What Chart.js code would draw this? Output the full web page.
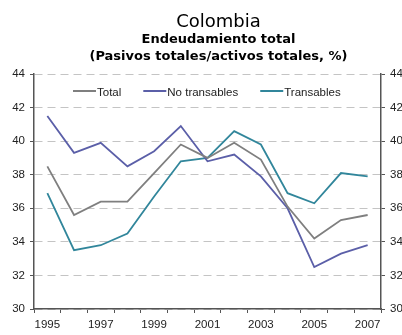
<!DOCTYPE html>
<html>
<head>
<meta charset="utf-8">
<script src="https://cdn.jsdelivr.net/npm/chart.js@4/dist/chart.umd.min.js"></script>
<style>
  html, body { margin: 0; padding: 0; background: #fff; }
</style>
</head>
<body>
<canvas id="endeudamientoChart" width="402" height="335"></canvas>
<script>
// Endeudamiento total, Colombia 1995-2007 (%)
const years = ['1995', '1996', '1997', '1998', '1999', '2000', '2001', '2002', '2003', '2004', '2005', '2006', '2007'];
const total = [38.5, 35.6, 36.4, 36.4, 38.1, 39.8, 39.0, 39.9, 38.9, 36.1, 34.2, 35.3, 35.6];
const noTransables = [41.5, 39.3, 39.9, 38.5, 39.4, 40.9, 38.8, 39.2, 37.9, 36.0, 32.5, 33.3, 33.8];
const transables = [36.9, 33.5, 33.8, 34.5, 36.7, 38.8, 39.0, 40.6, 39.8, 36.9, 36.3, 38.1, 37.9];
const yTicks = [30, 32, 34, 36, 38, 40, 42, 44];

const axisColor = '#555555';
const tickFont = { family: '"Liberation Sans", Arial, sans-serif', size: 11.5 };

// titles and the in-plot legend
const headerPlugin = {
    id: 'header',
    afterDraw(chart) {
        const ctx = chart.ctx;
        const area = chart.chartArea;
        const cx = (area.left + area.right) / 2 + 11;
        ctx.save();
        ctx.fillStyle = '#000';
        ctx.textAlign = 'center';
        ctx.textBaseline = 'alphabetic';
        ctx.font = '18px "DejaVu Sans"';
        ctx.fillText('Colombia', cx, 27);
        ctx.font = 'bold 13px "DejaVu Sans"';
        ctx.fillText('Endeudamiento total', cx, 43);
        ctx.fillText('(Pasivos totales/activos totales, %)', cx, 60);

        // legend row
        ctx.font = '11.5px "Liberation Sans", Arial, sans-serif';
        ctx.textAlign = 'left';
        ctx.fillStyle = '#222';
        let x = area.left + 39;
        const y = area.top + 17;
        chart.data.datasets.forEach(ds => {
            ctx.strokeStyle = ds.borderColor;
            ctx.lineWidth = 2;
            ctx.beginPath();
            ctx.moveTo(x, y);
            ctx.lineTo(x + 23, y);
            ctx.stroke();
            ctx.fillText(ds.label, x + 24, y + 4.5);
            x += 24 + ctx.measureText(ds.label).width + 22;
        });
        ctx.restore();
    }
};

const ctxDebt = document.getElementById('endeudamientoChart').getContext('2d');
const debtChart = new Chart(ctxDebt, {
    type: 'line',
    data: {
        labels: years,
        datasets: [{
            label: 'Total',
            data: total,
            borderColor: '#7f7f7f',
        }, {
            label: 'No transables',
            data: noTransables,
            borderColor: '#5b5fa8',
        }, {
            label: 'Transables',
            data: transables,
            borderColor: '#31869b',
        }]
    },
    options: {
        responsive: false,
        animation: false,
        layout: { padding: { top: 74, left: 0, right: 0, bottom: 0 } },
        elements: {
            point: { radius: 0 },
            line: { borderWidth: 1.8, tension: 0, fill: false }
        },
        plugins: {
            legend: { display: false },
            title: { display: false },
            tooltip: { enabled: false }
        },
        scales: {
            x: {
                offset: true,
                grid: { offset: true, drawOnChartArea: false, tickLength: 4, tickColor: axisColor },
                border: { color: axisColor, width: 1.5 },
                ticks: {
                    autoSkip: false,
                    maxRotation: 0,
                    padding: 5,
                    color: '#222',
                    font: tickFont,
                    callback(value, index) {
                        return index % 2 === 0 ? this.getLabelForValue(value) : '';
                    }
                },
                afterFit(scale) { scale.height = 26; }
            },
            y: {
                position: 'left',
                min: 30,
                max: 44,
                afterBuildTicks(scale) { scale.ticks = yTicks.map(v => ({ value: v })); },
                ticks: { padding: 5, color: '#222', font: tickFont },
                grid: { color: '#c4c4c4', lineWidth: 1, tickLength: 4, tickColor: axisColor },
                border: { color: axisColor, width: 1.5, dash: [8, 5] },
                afterFit(scale) { scale.width = 34; }
            },
            y2: {
                position: 'right',
                min: 30,
                max: 44,
                afterBuildTicks(scale) { scale.ticks = yTicks.map(v => ({ value: v })); },
                ticks: { padding: 5, color: '#222', font: tickFont },
                grid: { drawOnChartArea: false, tickLength: 4, tickColor: axisColor },
                border: { color: axisColor, width: 1.5 },
                afterFit(scale) { scale.width = 21; }
            }
        }
    },
    plugins: [headerPlugin]
});
</script>
</body>
</html>
